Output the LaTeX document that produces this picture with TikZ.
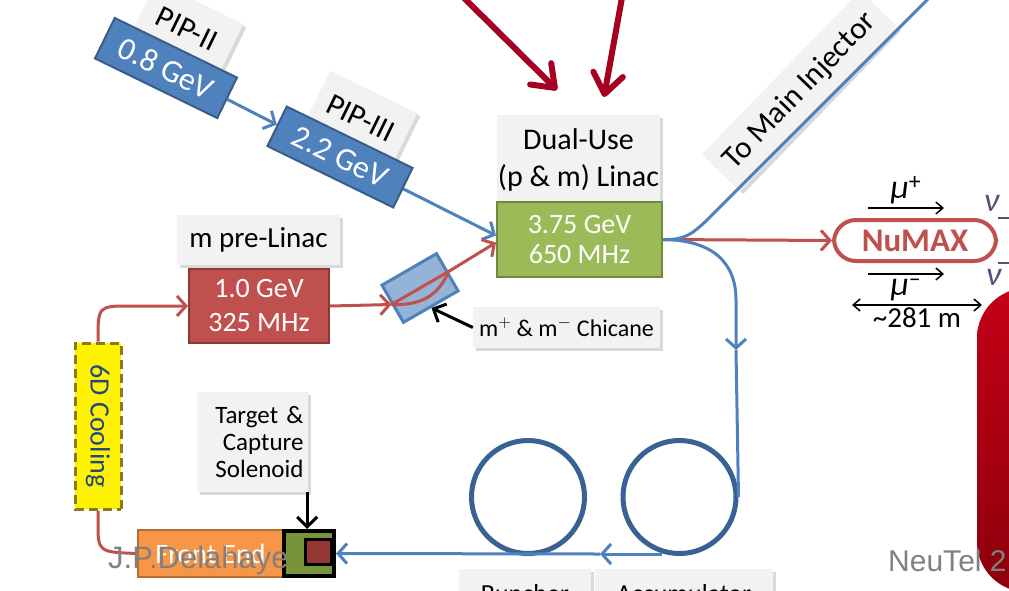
\documentclass[tikz,border=0pt]{standalone}
\usepackage{fontspec}
\setmainfont{Carlito}
\newfontfamily\creditfont{Liberation Sans}
\usetikzlibrary{arrows.meta,shadows}

\definecolor{pipblue}{RGB}{79,129,189}
\definecolor{pipedge}{RGB}{56,93,138}
\definecolor{ringblue}{RGB}{56,98,147}
\definecolor{linred}{RGB}{192,80,77}
\definecolor{linredge}{RGB}{140,56,54}
\definecolor{lingreen}{RGB}{155,187,89}
\definecolor{lingedge}{RGB}{113,137,63}
\definecolor{feorange}{RGB}{247,150,70}
\definecolor{feedge}{RGB}{182,109,49}
\definecolor{tgtgreen}{RGB}{119,147,60}
\definecolor{tgtred}{RGB}{149,55,53}
\definecolor{tagfill}{RGB}{242,242,242}
\definecolor{chifill}{RGB}{149,179,215}
\definecolor{injred}{RGB}{165,0,33}
\definecolor{nupurple}{RGB}{96,74,123}
\definecolor{coolblue}{RGB}{31,73,125}
\definecolor{cooledge}{RGB}{140,122,20}
\definecolor{credit}{RGB}{128,128,128}
\definecolor{paneltop}{RGB}{196,0,22}
\definecolor{panelbot}{RGB}{140,0,12}

\begin{document}
\begin{tikzpicture}[x=1pt,y=-1pt,
    beam/.style={draw=pipblue, line width=3pt},
    redbeam/.style={draw=linred, line width=3pt},
    barb/.style={-{Straight Barb[length=9pt,width=20pt]}},
    ptr/.style={draw=black, line width=3pt, -{Straight Barb[length=10pt,width=20pt]}},
    muline/.style={draw=black, line width=1.5pt},
    tagbox/.style={fill=tagfill, inner sep=0pt, drop shadow={shadow xshift=3pt, shadow yshift=-3pt, opacity=0.3}}]

    \useasboundingbox (0,0) rectangle (1009,590);
    \clip (0,0) rectangle (1009,590);

    % red panel on the right
    \shade[top color=paneltop, bottom color=panelbot, rounded corners=50pt] (977,288) rectangle (1090,592);

    % grey labels
    \begin{scope}[every node/.style={tagbox, font=\fontsize{29}{32}\selectfont}]
        \node[minimum width=97pt, minimum height=58pt, rotate=-26, font=\fontsize{31}{32}\selectfont] (tag08) at (187,29) {PIP-II};
        \node[minimum width=97pt, minimum height=58pt, rotate=-26, font=\fontsize{31}{32}\selectfont] (tag22) at (361,118) {PIP-III};
        \node[minimum width=163pt, minimum height=90pt, align=center, font=\fontsize{30}{37}\selectfont] (tagdual) at (578.5,160) {Dual-Use\\(p \& m) Linac};
        \node[minimum width=163pt, minimum height=50pt] (tagpre) at (258.5,240) {m pre-Linac};
        \node[minimum width=187pt, minimum height=41pt, font=\fontsize{24}{28}\selectfont] (tagchi) at (566.5,327.5) {m$^{+}$ \& m$^{-}$ Chicane};
        \node[minimum width=111pt, minimum height=100pt, text width=102pt, align=right, font=\fontsize{25}{27}\selectfont] (tagtgt) at (252.5,442) {Target \&\\Capture\\Solenoid};
        \node[minimum width=227pt, minimum height=53pt, rotate=46, font=\fontsize{31}{32}\selectfont] (taginj) at (800,91) {To Main Injector};
        \node[minimum width=132pt, minimum height=50pt, font=\fontsize{26}{28}\selectfont] (tagbun) at (525,594) {Buncher};
        \node[minimum width=178pt, minimum height=50pt, font=\fontsize{26}{28}\selectfont] (tagacc) at (684,594) {Accumulator};
    \end{scope}

    % machine boxes
    \begin{scope}[every node/.style={draw, line width=2pt, text=white, inner sep=0pt, font=\fontsize{28}{30}\selectfont}]
        \node[fill=pipblue, draw=pipedge, minimum width=136pt, minimum height=45pt, rotate=-26, font=\fontsize{32}{32}\selectfont] (b08) at (166,68) {0.8 GeV};
        \node[fill=pipblue, draw=pipedge, minimum width=140pt, minimum height=44pt, rotate=-26, font=\fontsize{32}{32}\selectfont] (b22) at (340,157) {2.2 GeV};
        \node[fill=lingreen, draw=lingedge, minimum width=165pt, minimum height=75pt, align=center] (linac) at (579.5,239.5) {3.75 GeV\\650 MHz};
        \node[fill=linred, draw=linredge, minimum width=140pt, minimum height=74pt, align=center, font=\fontsize{28}{34}\selectfont] (pre) at (259,306) {1.0 GeV\\325 MHz};
        \node[fill=chifill, draw=pipblue, line width=3pt, minimum width=63pt, minimum height=43pt, rotate=30] (chi) at (420,288) {};
        \node[fill=feorange, draw=feedge, minimum width=145pt, minimum height=47pt] (fe) at (210.5,553.5) {Front End};
        \node[fill=tgtgreen, draw=black, line width=4pt, minimum width=50pt, minimum height=45pt] (tgt) at (309,553.5) {};
        \node[fill=tgtred, draw=black, line width=3pt, minimum width=26pt, minimum height=25pt] (core) at (318,551.5) {};
        \node[fill=yellow, draw=cooledge, line width=3pt, dash pattern=on 9pt off 5pt, rotate=-90, minimum width=166pt, minimum height=46pt, text=coolblue] (cool) at (98,426) {6D Cooling};
    \end{scope}

    \node[draw=linred, line width=4pt, rounded corners=22pt, minimum width=162pt, minimum height=41pt, text=linred, font=\bfseries\fontsize{33}{34}\selectfont] (numax) at (915,240.5) {NuMAX};

    \begin{scope}[every node/.style={circle, draw=ringblue, line width=5pt, minimum size=113pt, inner sep=0pt}]
        \node (bun) at (528,497) {};
        \node (acc) at (679.5,497) {};
    \end{scope}

    \coordinate (inj) at (945,-18);
    \coordinate (down) at (736,350);
    \coordinate (ret) at (662,554);
    \coordinate (mid) at (600,554);

    % proton and muon lines
    \draw[beam, barb] (b08) -- (b22);
    \draw[beam, barb] (b22) -- ([yshift=4pt]linac.west);
    \draw[redbeam, barb] (pre.east) -- (chi.west);
    \draw[redbeam] (chi.west) -- (chi.east);
    \draw[redbeam] (chi.west) .. controls (425,306) and (440,292) .. (chi.east);
    \draw[redbeam, barb] (chi.east) -- ([yshift=-3pt]linac.west);
    \draw[redbeam, barb] (linac.east) -- (numax.west);
    \draw[beam] (linac.east) .. controls (685,240) and (692,234) .. (706,221) -- (inj);
    \draw[beam, barb] (linac.east) .. controls (712,240) and (736,262) .. (736,300) -- (down);
    \draw[beam] (down) -- (acc.east);
    \draw[beam, barb] (ret) -- (mid);
    \draw[beam, barb] (mid) -- (tgt.east);
    \draw[redbeam, barb] (cool.west) .. controls (98,306) .. (130,306) -- (pre.west);
    \draw[redbeam] (cool.east) -- (98,522) .. controls (98,552) .. (fe.west);

    % pointers
    \draw[ptr] (tagchi.west) -- (chi.south);
    \draw[ptr] ([xshift=-1pt]tagtgt.south east) -- ([xshift=-1pt]tagtgt.south east |- tgt.north);

    % incoming arrows at the top
    \coordinate (src1) at (458,-8);
    \coordinate (dst1) at (557,90);
    \coordinate (src2) at (623,-8);
    \coordinate (dst2) at (604,97);
    \begin{scope}[every path/.style={draw=injred, line width=6pt, -{Straight Barb[round, length=20pt, width=30pt]}}]
        \path (src1) -- (dst1);
        \path (src2) -- (dst2);
    \end{scope}

    % NuMAX ring
    \coordinate (mp1) at (868,208);
    \coordinate (mp2) at (944,208);
    \coordinate (mm1) at (868,274);
    \coordinate (mm2) at (944,274);
    \coordinate (len1) at (852,305);
    \coordinate (len2) at (982,305);
    \begin{scope}[every node/.style={font=\fontsize{34}{34}\selectfont, inner sep=0pt}]
        \draw[muline, -{Straight Barb[length=7pt,width=12pt]}] (mp1) -- node[above=3pt] (mup) {\textit{μ}\textsuperscript{+}} (mp2);
        \draw[muline, -{Straight Barb[length=7pt,width=12pt]}] (mm1) -- node[below=4pt] (mum) {\textit{μ}\textsuperscript{–}} (mm2);
        \draw[muline, {Straight Barb[length=7pt,width=12pt]}-{Straight Barb[length=7pt,width=12pt]}] (len1) -- node[below=2pt, font=\fontsize{29}{30}\selectfont] (len) {\textasciitilde281 m} (len2);
        \draw[draw=nupurple, line width=1.5pt, -{Straight Barb[length=7pt,width=12pt]}] (numax.north east) -- ++(28,0);
        \draw[draw=nupurple, line width=1.5pt, -{Straight Barb[length=7pt,width=12pt]}] (numax.south east) -- ++(28,0);
        \node[text=nupurple] (nu1) at (992,203) {\textit{ν}};
        \node[text=nupurple] (nu2) at (994,277) {\textit{ν}};
    \end{scope}

    % credits
    \node[anchor=base west, inner sep=0pt, text=credit, font=\creditfont\fontsize{31}{33}\selectfont] (author) at (108,568) {J.P.Delahaye};
    \node[anchor=base west, inner sep=0pt, text=credit, font=\creditfont\fontsize{30}{33}\selectfont] (venue) at (888,571) {NeuTel 2};
\end{tikzpicture}
\end{document}
